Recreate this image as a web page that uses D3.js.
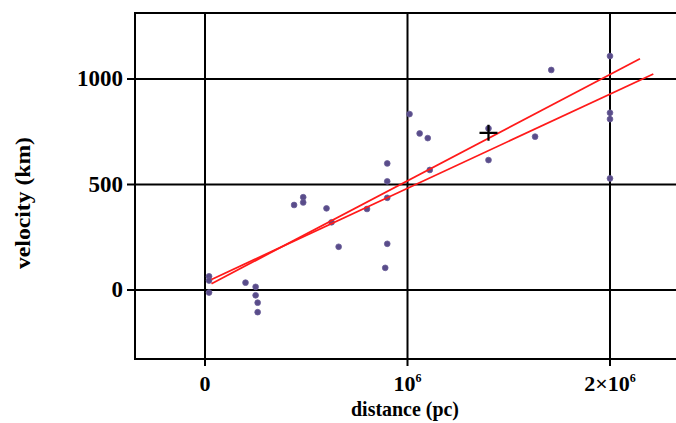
<!DOCTYPE html>
<html>
<head>
<meta charset="utf-8">
<script src="https://cdn.jsdelivr.net/npm/d3@7"></script>
<style>
  html, body { margin: 0; padding: 0; background: #fff; }
  svg { display: block; }
  text { font-family: "Liberation Serif", "DejaVu Serif", serif; font-weight: bold; fill: #000; }
</style>
</head>
<body>
<svg id="chart" width="676" height="423"></svg>
<script>
// ---- data ----
const distancePc = [20000, 20000, 20000, 200000, 250000, 250000, 260000, 260000,
  440000, 485000, 485000, 600000, 625000, 660000, 800000,
  900000, 900000, 900000, 900000, 890000,
  1010000, 1060000, 1100000, 1110000, 1400000, 1400000, 1630000, 1710000,
  2000000, 2000000, 2000000, 2000000];
const velocityKm = [65, 45, -12, 35, 15, -25, -60, -105,
  403, 440, 415, 387, 321, 205, 384,
  600, 515, 437, 219, 105,
  834, 742, 720, 569, 766, 616, 727, 1043,
  1109, 840, 810, 529];
// regression lines (start/end)
const fitA = [[32000, 30], [2148000, 1096]];
const fitB = [[32000, 50], [2214000, 1024]];
// centroid marker
const centroid = [1400000, 745];
const xTicks = [0, 1000000, 2000000];
const xTickLabels = ["0", "10|6", "2×10|6"];
const yTicks = [0, 500, 1000];
const yTickLabels = ["0", "500", "1000"];
const xTitle = "distance (pc)";
const yTitle = "velocity (km)";

// ---- drawing ----
(function () {
const svg = d3.select("#chart");
const mL = 135, mR = 680, mT = 13, mB = 359;
const x = d3.scaleLinear().domain([-345700, 2345700]).range([mL, mR]);
const y = d3.scaleLinear().domain([-327, 1313]).range([mB, mT]);

// grid lines
const g = svg.append("g");
g.selectAll(".gx").data(xTicks).enter().append("line")
  .attr("x1", d => x(d)).attr("x2", d => x(d)).attr("y1", mT).attr("y2", mB + 7)
  .attr("stroke", "#000").attr("stroke-width", 2);
g.selectAll(".gy").data(yTicks).enter().append("line")
  .attr("y1", d => y(d)).attr("y2", d => y(d)).attr("x1", mL - 8).attr("x2", mR)
  .attr("stroke", "#000").attr("stroke-width", 2);
// frame
g.append("path")
  .attr("d", `M${mR},${mT}H${mL}V${mB}H${mR}`)
  .attr("fill", "none").attr("stroke", "#000").attr("stroke-width", 2);

// tick labels
svg.selectAll(".yl").data(yTicks).enter().append("text")
  .attr("x", 123).attr("y", d => y(d) + 7)
  .attr("text-anchor", "end").attr("font-size", 23)
  .text((d, i) => yTickLabels[i]);

svg.selectAll(".xl").data(xTicks).enter().append("text")
  .attr("x", d => x(d)).attr("y", 391)
  .attr("text-anchor", "middle").attr("font-size", 22)
  .each(function (d, i) {
    const parts = xTickLabels[i].split("|");
    const t = d3.select(this);
    t.append("tspan").text(parts[0]);
    if (parts[1]) t.append("tspan").attr("dy", -9).attr("font-size", 12).text(parts[1]);
  });

// axis titles
svg.append("text").attr("x", 405).attr("y", 416).attr("text-anchor", "middle")
  .attr("font-size", 21).attr("textLength", 108).attr("lengthAdjust", "spacingAndGlyphs")
  .text(xTitle);
svg.append("text").attr("transform", "translate(30,203) rotate(-90)")
  .attr("text-anchor", "middle").attr("font-size", 21)
  .attr("textLength", 132).attr("lengthAdjust", "spacingAndGlyphs")
  .text(yTitle);

// points
const pts = distancePc.map((d, i) => [d, velocityKm[i]]);
svg.selectAll(".pt").data(pts).enter().append("path")
  .attr("transform", d => `translate(${x(d[0])},${y(d[1])})`)
  .attr("d", d3.symbol().type(d3.symbolCircle).size(26))
  .attr("fill", "#594c8a").attr("stroke", "#6a5e98").attr("stroke-width", 0.8);

// regression lines
const line = d3.line().x(d => x(d[0])).y(d => y(d[1]));
[fitA, fitB].forEach(f => {
  svg.append("path").attr("d", line(f)).attr("fill", "none")
    .attr("stroke", "#ff1a1a").attr("stroke-width", 1.8);
});

// centroid cross
const cx = x(centroid[0]), cy = y(centroid[1]);
svg.append("path").attr("d", `M${cx - 9},${cy}H${cx + 9}M${cx},${cy - 8}V${cy + 8}`)
  .attr("stroke", "#000").attr("stroke-width", 2.2);
})();
</script>
</body>
</html>
